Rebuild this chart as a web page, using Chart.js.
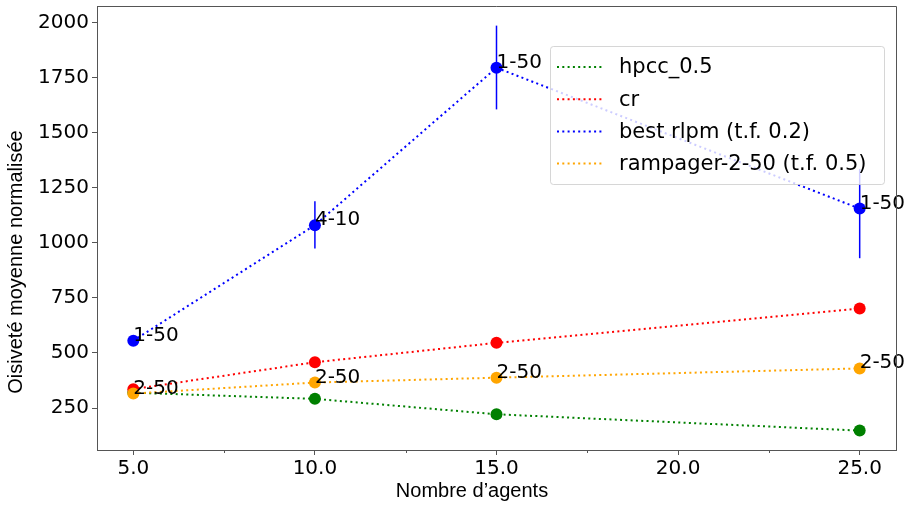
<!DOCTYPE html>
<html>
<head>
<meta charset="utf-8">
<script src="https://cdn.jsdelivr.net/npm/chart.js@4"></script>
<style>body{margin:0;background:#fff}</style>
</head>
<body>
<canvas id="grafica" width="915" height="506"></canvas>
<script>
// valeurs
var agents = [5, 10, 15, 25];
var xTicks = [5, 10, 15, 20, 25];
var yTicks = [250, 500, 750, 1000, 1250, 1500, 1750, 2000];
var hpcc = [320, 292, 222, 148];
var cr = [336, 458, 546, 702];
var rlpm = [556, 1080, 1794, 1155];
var rlpm_haut = [562, 1188, 1985, 1335];
var rlpm_bas = [550, 974, 1605, 930];
var rampager = [316, 366, 388, 430];
var rlpm_etiq = ['1-50', '4-10', '1-50', '1-50'];
var rampager_etiq = ['2-50', '2-50', '2-50', '2-50'];

function pts(ys){
  return agents.map(function(x, i){ return {x: x, y: ys[i]}; });
}

function serie(label, color, ys, order){
  return {
    label: label,
    data: pts(ys),
    borderColor: color,
    backgroundColor: color,
    borderWidth: 2,
    borderDash: [2, 3.3],
    pointRadius: 6,
    pointHoverRadius: 6,
    pointBorderWidth: 0,
    fill: false,
    tension: 0,
    order: order
  };
}

var frame = '#555';

var extras = {
  id: 'extras',
  afterDatasetsDraw: function(chart){
    var ctx = chart.ctx, xs = chart.scales.x, ys = chart.scales.y;
    ctx.save();
    // barres d'erreur
    ctx.strokeStyle = 'blue';
    ctx.lineWidth = 1.5;
    agents.forEach(function(x, i){
      var px = xs.getPixelForValue(x);
      ctx.beginPath();
      ctx.moveTo(px, ys.getPixelForValue(rlpm_haut[i]));
      ctx.lineTo(px, ys.getPixelForValue(rlpm_bas[i]));
      ctx.stroke();
    });
    // etiquettes
    ctx.fillStyle = '#000';
    ctx.font = '20px "DejaVu Sans"';
    ctx.textAlign = 'left';
    ctx.textBaseline = 'alphabetic';
    agents.forEach(function(x, i){
      ctx.fillText(rlpm_etiq[i], xs.getPixelForValue(x), ys.getPixelForValue(rlpm[i]));
      ctx.fillText(rampager_etiq[i], xs.getPixelForValue(x), ys.getPixelForValue(rampager[i]));
    });
    ctx.restore();
  },
  afterDraw: function(chart){
    var ctx = chart.ctx, xs = chart.scales.x, a = chart.chartArea;
    ctx.save();
    // cadre haut/droite
    ctx.strokeStyle = frame;
    ctx.lineWidth = 1;
    ctx.beginPath();
    ctx.moveTo(a.left, a.top + 0.5);
    ctx.lineTo(a.right + 0.5, a.top + 0.5);
    ctx.lineTo(a.right + 0.5, a.bottom);
    ctx.stroke();
    // petites graduations
    [7.5, 12.5, 17.5, 22.5].forEach(function(v){
      var px = Math.round(xs.getPixelForValue(v)) + 0.5;
      ctx.beginPath();
      ctx.moveTo(px, a.bottom);
      ctx.lineTo(px, a.bottom + 3);
      ctx.stroke();
    });
    // légende
    var lx = 550, ly = 46, lw = 334, lh = 138;
    ctx.fillStyle = 'rgba(255,255,255,0.8)';
    ctx.strokeStyle = 'rgba(204,204,204,0.8)';
    ctx.beginPath();
    ctx.roundRect(lx + 0.5, ly + 0.5, lw, lh, 3);
    ctx.fill();
    ctx.stroke();
    ctx.font = '21px "DejaVu Sans"';
    ctx.textBaseline = 'middle';
    ctx.textAlign = 'left';
    [0, 1, 2, 3].forEach(function(k, r){
      var ds = chart.data.datasets[k];
      var cy = 67 + r * 32.2;
      ctx.strokeStyle = ds.borderColor;
      ctx.lineWidth = 2;
      ctx.setLineDash([2, 3.3]);
      ctx.beginPath();
      ctx.moveTo(557, cy);
      ctx.lineTo(603, cy);
      ctx.stroke();
      ctx.setLineDash([]);
      ctx.fillStyle = '#000';
      ctx.fillText(ds.label, 619, cy + 1);
    });
    // titres des axes
    ctx.fillStyle = '#000';
    ctx.font = '20px "Liberation Sans"';
    ctx.textAlign = 'center';
    ctx.textBaseline = 'middle';
    ctx.fillText('Nombre d’agents', 472, 491);
    ctx.translate(16, 262);
    ctx.rotate(-Math.PI / 2);
    ctx.fillText('Oisiveté moyenne normalisée', 0, 0);
    ctx.restore();
  }
};

var ctx = document.getElementById('grafica');
var graf = new Chart(ctx, {
  type: 'line',
  data: {
    datasets: [
      serie('hpcc_0.5', 'green', hpcc, 4),
      serie('cr', 'red', cr, 3),
      serie('best rlpm (t.f. 0.2)', 'blue', rlpm, 2),
      serie('rampager-2-50 (t.f. 0.5)', 'orange', rampager, 1)
    ]
  },
  options: {
    responsive: false,
    animation: false,
    devicePixelRatio: 1,
    layout: {padding: {top: 6, right: 19, left: 0, bottom: 0}},
    plugins: {legend: {display: false}, tooltip: {enabled: false}},
    scales: {
      x: {
        type: 'linear',
        min: 4, max: 26,
        afterBuildTicks: function(s){ s.ticks = xTicks.map(function(v){ return {value: v}; }); },
        afterFit: function(s){ s.height = 56; s.paddingLeft = 0; s.paddingRight = 0; },
        ticks: {
          color: '#000', padding: 2,
          font: {family: 'DejaVu Sans', size: 20},
          callback: function(v){ return Number(v).toFixed(1); }
        },
        grid: {drawOnChartArea: false, tickLength: 5, color: frame},
        border: {color: frame}
      },
      y: {
        min: 60, max: 2074,
        afterBuildTicks: function(s){ s.ticks = yTicks.map(function(v){ return {value: v}; }); },
        afterFit: function(s){ s.width = 97; s.paddingTop = 0; s.paddingBottom = 0; },
        ticks: {
          color: '#000', padding: 3,
          font: {family: 'DejaVu Sans', size: 20},
          callback: function(v){ return String(v); }
        },
        grid: {drawOnChartArea: false, tickLength: 5, color: frame},
        border: {color: frame}
      }
    }
  },
  plugins: [extras]
});
</script>
</body>
</html>
